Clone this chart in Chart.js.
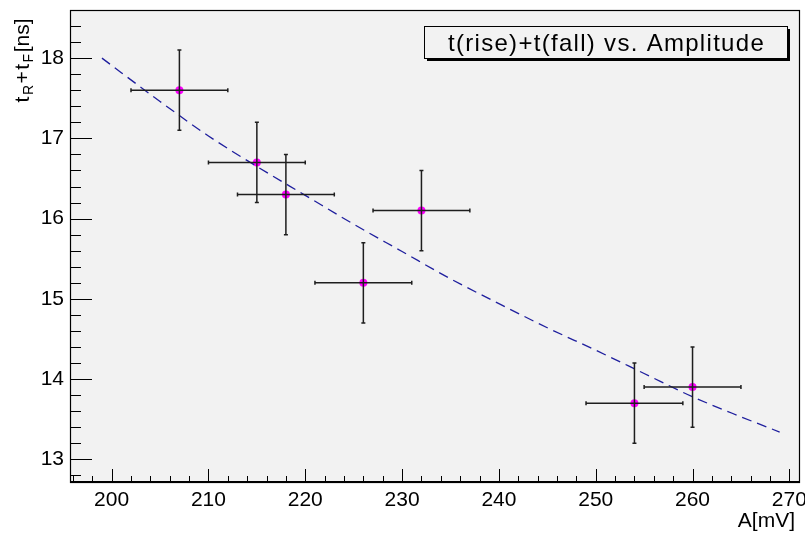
<!DOCTYPE html>
<html>
<head>
<meta charset="utf-8">
<script src="https://cdn.jsdelivr.net/npm/chart.js@4"></script>
<style>
  html, body { margin: 0; padding: 0; background: #ffffff; }
  #wrap { width: 805px; height: 533px; }
</style>
</head>
<body>
<div id="wrap"><canvas id="riseFallChart" width="805" height="533"></canvas></div>
<script>
// measured points with errors
const amplitude = [207, 215, 218, 226, 232, 254, 260];
const amplitudeErr = [5, 5, 5, 5, 5, 5, 5];
const riseFall = [17.6, 16.7, 16.3, 15.2, 16.1, 13.7, 13.9];
const riseFallErr = [0.5, 0.5, 0.5, 0.5, 0.5, 0.5, 0.5];

// fit curve
const fitAmplitude = [199, 205, 210, 215, 220, 225, 230, 235, 240, 245, 250, 255, 260, 265, 269];
const fitRiseFall = [18.0, 17.46, 17.03, 16.65, 16.29, 15.93, 15.59, 15.25, 14.94, 14.64, 14.36, 14.07, 13.78, 13.53, 13.34];

const xTickLabels = [200, 210, 220, 230, 240, 250, 260, 270];
const yTickLabels = [13, 14, 15, 16, 17, 18];

const FONT = "'Liberation Sans', Arial, sans-serif";

function px(chart, x, y) {
    return [chart.scales.x.getPixelForValue(x), chart.scales.y.getPixelForValue(y)];
}

function noPadding(s) {
    s.paddingTop = 0;
    s.paddingBottom = 0;
    s.paddingLeft = 0;
    s.paddingRight = 0;
}

const rootStyle = {
    id: "rootStyle",
    beforeDraw(chart) {
        const ctx = chart.ctx;
        const a = chart.chartArea;
        ctx.save();
        ctx.fillStyle = "#ffffff";
        ctx.fillRect(0, 0, chart.width, chart.height);
        ctx.fillStyle = "#f2f2f2";
        ctx.fillRect(a.left, a.top, a.right - a.left, a.bottom - a.top);
        ctx.restore();
    },
    afterDatasetsDraw(chart) {
        // error bars on top of the markers
        const ctx = chart.ctx;
        ctx.save();
        ctx.strokeStyle = "#1e1e1e";
        ctx.lineWidth = 1.5;
        amplitude.forEach((x, i) => {
            const y = riseFall[i];
            const [x0, yc] = px(chart, x - amplitudeErr[i], y);
            const [x1] = px(chart, x + amplitudeErr[i], y);
            const [xc, y0] = px(chart, x, y + riseFallErr[i]);
            const [, y1] = px(chart, x, y - riseFallErr[i]);
            ctx.beginPath();
            ctx.moveTo(x0, yc); ctx.lineTo(x1, yc);
            ctx.moveTo(xc, y0); ctx.lineTo(xc, y1);
            ctx.moveTo(x0, yc - 2); ctx.lineTo(x0, yc + 2);
            ctx.moveTo(x1, yc - 2); ctx.lineTo(x1, yc + 2);
            ctx.moveTo(xc - 2, y0); ctx.lineTo(xc + 2, y0);
            ctx.moveTo(xc - 2, y1); ctx.lineTo(xc + 2, y1);
            ctx.stroke();
        });
        ctx.restore();
    },
    afterDraw(chart) {
        const ctx = chart.ctx;
        const a = chart.chartArea;
        const xs = chart.scales.x, ys = chart.scales.y;
        ctx.save();

        // frame
        ctx.strokeStyle = "#000000";
        ctx.lineWidth = 1.2;
        ctx.strokeRect(a.left + 0.5, a.top + 0.5, a.right - a.left - 1, a.bottom - a.top - 1);
        ctx.lineWidth = 2;
        ctx.beginPath();
        ctx.moveTo(a.left, a.bottom - 1); ctx.lineTo(a.right, a.bottom - 1);
        ctx.stroke();

        // inner ticks
        ctx.lineWidth = 1;
        ctx.beginPath();
        for (let v = 196; v <= xs.max; v += 2) {
            const p = Math.round(xs.getPixelForValue(v)) + 0.5;
            const len = v % 10 === 0 ? 14 : 7;
            ctx.moveTo(p, a.bottom); ctx.lineTo(p, a.bottom - len);
        }
        for (let k = 64; k <= 93; k++) {
            const v = k / 5;
            if (v < ys.min || v > ys.max) continue;
            const p = Math.round(ys.getPixelForValue(v)) + 0.5;
            const len = k % 5 === 0 ? 22 : 11;
            ctx.moveTo(a.left, p); ctx.lineTo(a.left + len, p);
        }
        ctx.stroke();

        // title box with shadow
        const bx = 424, by = 26, bw = 363, bh = 32;
        ctx.fillStyle = "#000000";
        ctx.fillRect(bx + 3, by + 3, bw, bh);
        ctx.fillStyle = "#f2f2f2";
        ctx.fillRect(bx, by, bw, bh);
        ctx.lineWidth = 1;
        ctx.strokeRect(bx + 0.5, by + 0.5, bw, bh);
        ctx.fillStyle = "#000000";
        ctx.font = "24px " + FONT;
        ctx.letterSpacing = "1.3px";
        ctx.textAlign = "center";
        ctx.textBaseline = "alphabetic";
        ctx.fillText("t(rise)+t(fall) vs. Amplitude", bx + bw / 2 + 1, by + 25);
        ctx.letterSpacing = "0px";

        // x axis title
        ctx.font = "21px " + FONT;
        ctx.textAlign = "right";
        ctx.fillText("A[mV]", 795, 527);

        // y axis title, rotated, with subscripts
        const parts = [
            ["t", false], ["R", true], ["+", false], ["t", false], ["F", true], ["[ns]", false]
        ];
        const mainFont = "21px " + FONT, subFont = "14px " + FONT;
        const gap = 1.5;
        let total = 0;
        parts.forEach(([s, sub]) => {
            ctx.font = sub ? subFont : mainFont;
            total += ctx.measureText(s).width + gap;
        });
        ctx.translate(28.5, 17 + total);
        ctx.rotate(-Math.PI / 2);
        ctx.textAlign = "left";
        let cx = 0;
        parts.forEach(([s, sub]) => {
            ctx.font = sub ? subFont : mainFont;
            ctx.fillText(s, cx, sub ? 4.5 : 0);
            cx += ctx.measureText(s).width + gap;
        });
        ctx.restore();
    }
};

const pointData = amplitude.map((x, i) => ({ x: x, y: riseFall[i] }));
const fitData = fitAmplitude.map((x, i) => ({ x: x, y: fitRiseFall[i] }));

new Chart(document.getElementById("riseFallChart"), {
    type: "scatter",
    data: {
        datasets: [
            {
                label: "fit",
                data: fitData,
                showLine: true,
                cubicInterpolationMode: "monotone",
                borderColor: "#1f1f9e",
                borderWidth: 1.3,
                borderDash: [10, 6],
                pointRadius: 0,
                fill: false
            },
            {
                label: "data",
                data: pointData,
                pointRadius: 4,
                pointBackgroundColor: "#ff00ff",
                pointBorderColor: "#ff00ff",
                pointBorderWidth: 0
            }
        ]
    },
    options: {
        responsive: false,
        animation: false,
        layout: { padding: { top: 10, right: 5, left: 0, bottom: 0 } },
        plugins: {
            legend: { display: false },
            title: { display: false },
            tooltip: { enabled: false }
        },
        scales: {
            x: {
                type: "linear",
                min: 195.7,
                max: 271.1,
                afterBuildTicks: s => { s.ticks = xTickLabels.map(v => ({ value: v })); },
                afterFit: s => { s.height = 50; noPadding(s); },
                grid: { display: false, drawTicks: false },
                border: { display: false },
                ticks: {
                    color: "#000000",
                    font: { family: FONT, size: 21 },
                    padding: 5,
                    maxRotation: 0,
                    autoSkip: false
                }
            },
            y: {
                type: "linear",
                min: 12.705,
                max: 18.6,
                afterBuildTicks: s => { s.ticks = yTickLabels.map(v => ({ value: v })); },
                afterFit: s => { s.width = 70; noPadding(s); },
                grid: { display: false, drawTicks: false },
                border: { display: false },
                ticks: {
                    color: "#000000",
                    font: { family: FONT, size: 21 },
                    padding: 6,
                    autoSkip: false
                }
            }
        }
    },
    plugins: [rootStyle]
});
</script>
</body>
</html>
